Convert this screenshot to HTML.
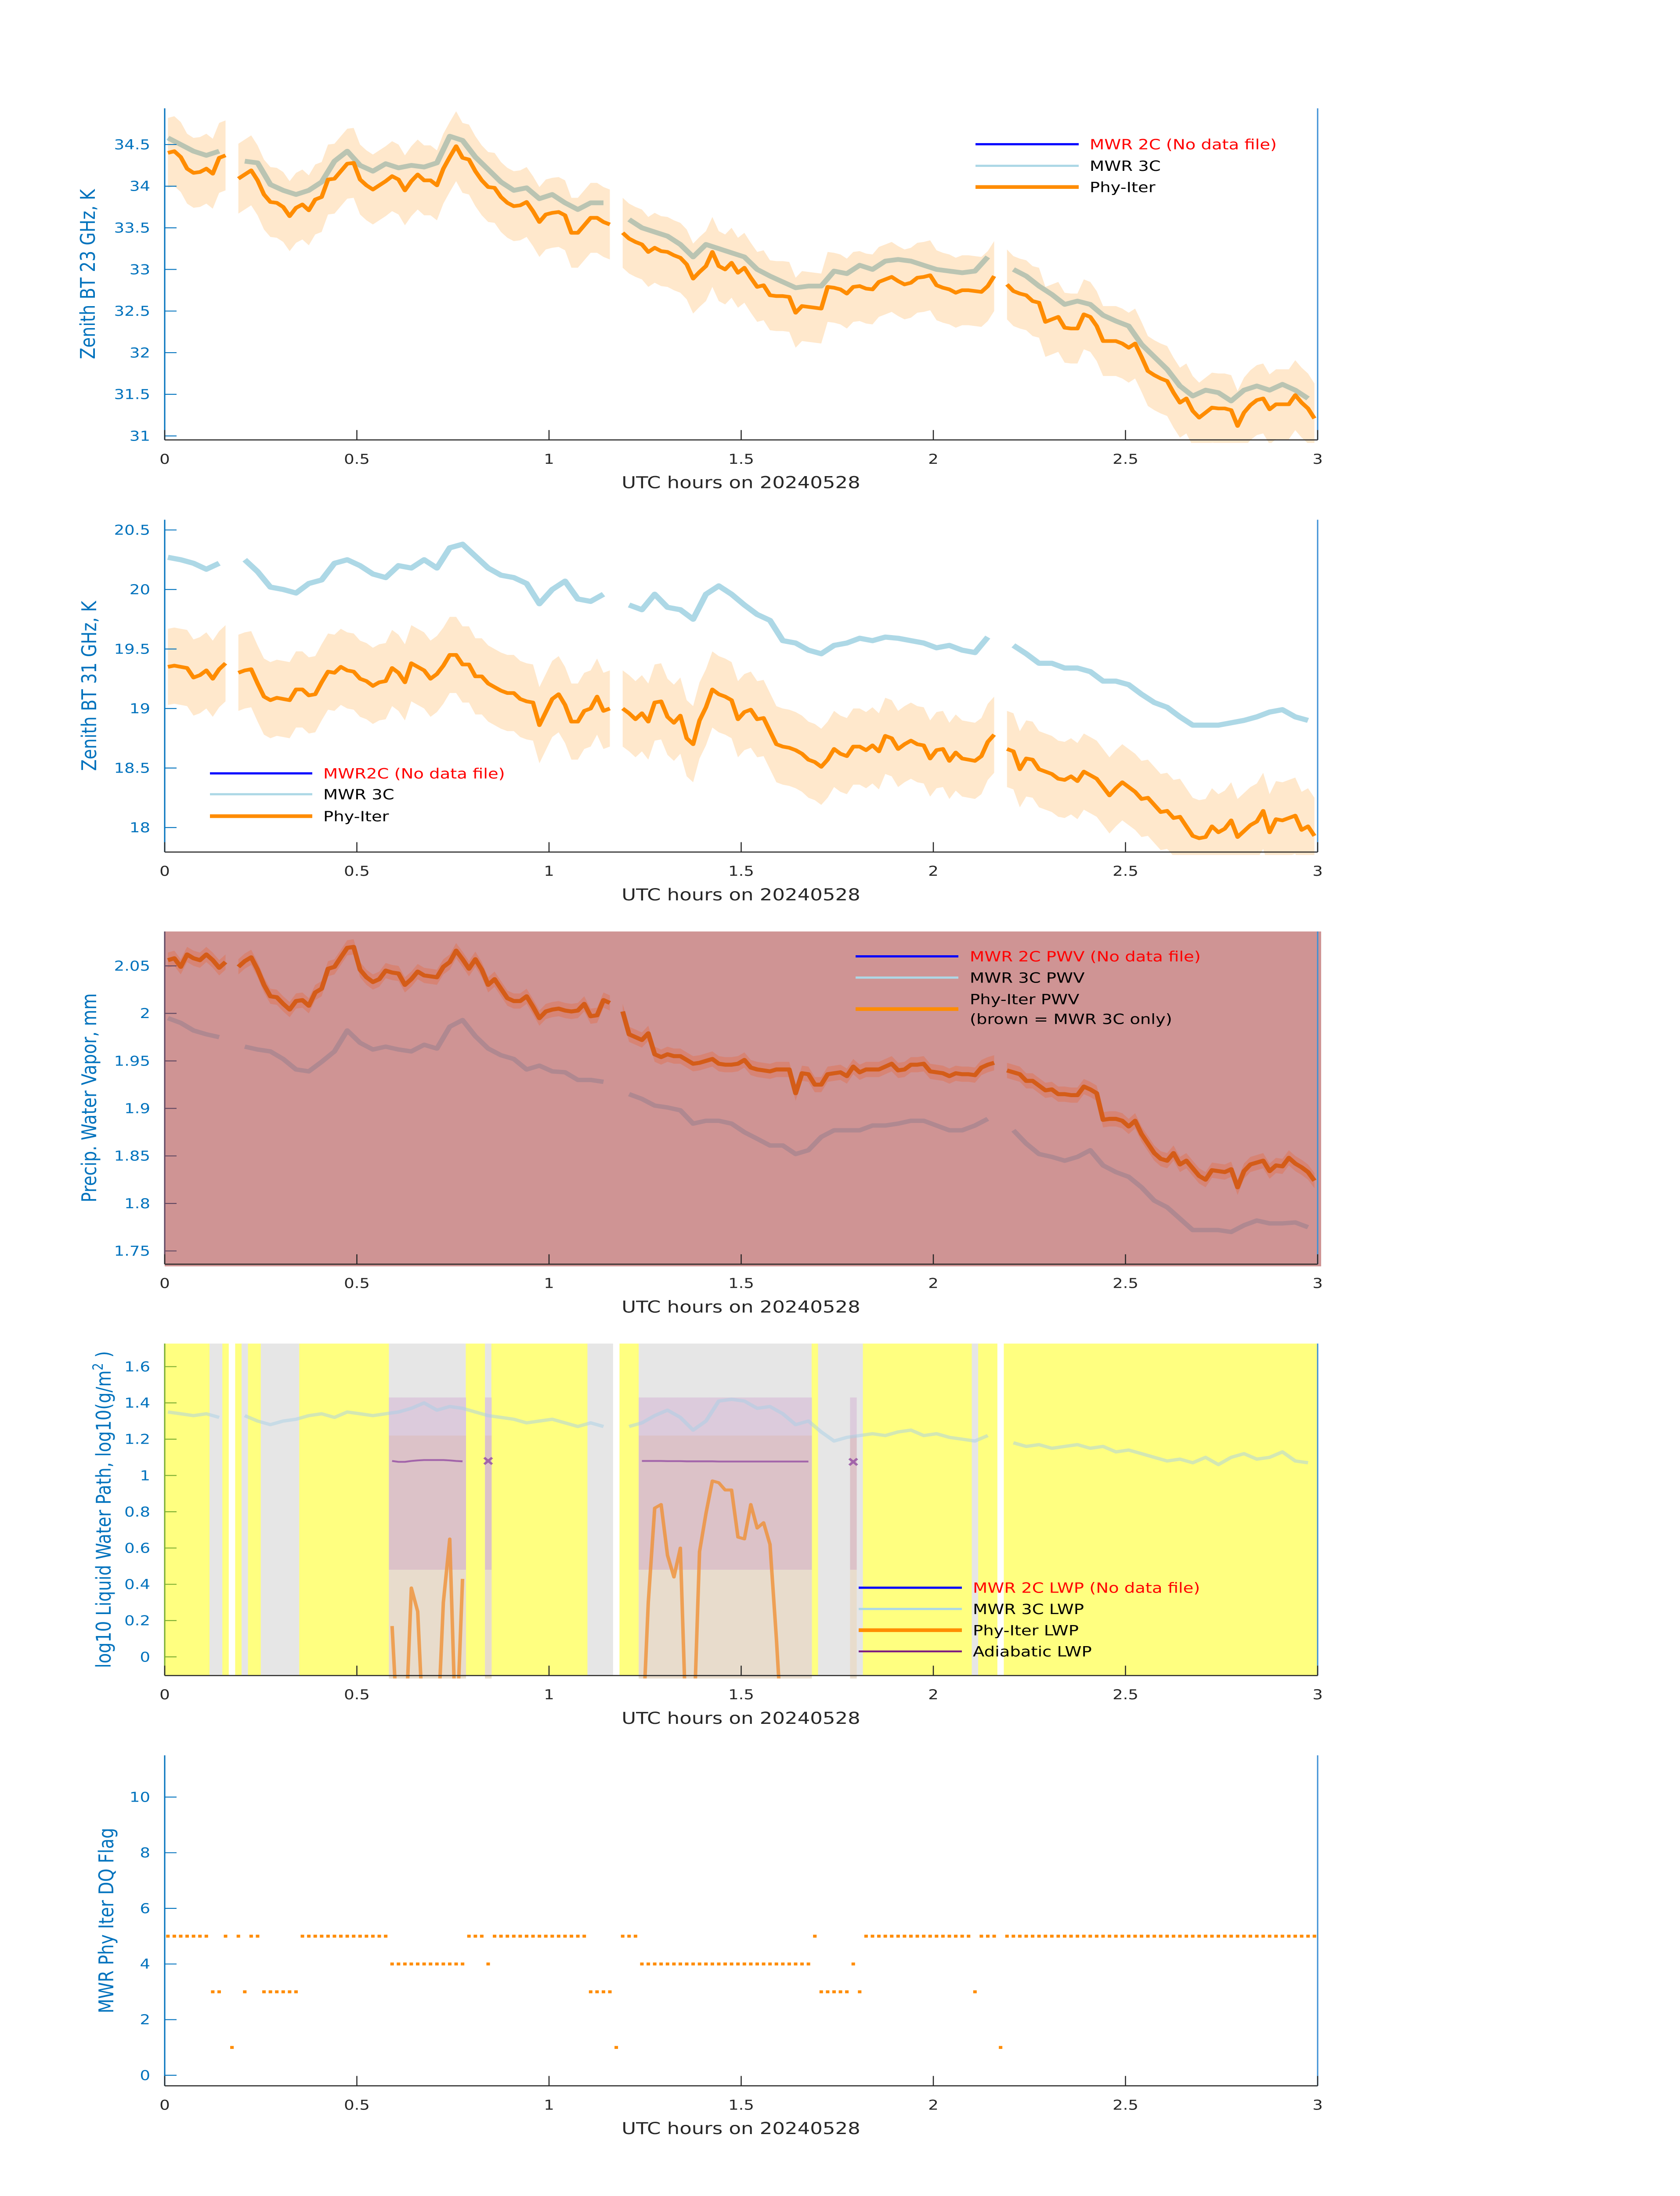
<!DOCTYPE html>
<html>
<head>
<meta charset="utf-8">
<meta name="viewport" content="width=3825">
<style>
html,body{margin:0;padding:0;background:#fff;width:100%;height:100%;overflow:hidden;}
svg{display:block;position:fixed;left:0;top:0;width:100vw;height:100vh;}
text{font-family:"DejaVu Sans","Liberation Sans",sans-serif;}
</style>
</head>
<body>
<svg id="fig" xmlns="http://www.w3.org/2000/svg" viewBox="0 0 3825 6000" preserveAspectRatio="none">
<rect x="0" y="0" width="3825" height="6000" fill="#ffffff"/>
</svg>
<script>
// ---------- shared axis data ----------
const xTickValues = [0, 0.5, 1, 1.5, 2, 2.5, 3];
const xTickLabels = ["0", "0.5", "1", "1.5", "2", "2.5", "3"];

// ---------- Panel 1: 23 GHz BT (K), Phy-Iter per minute ----------
const p1Phy = [34.40,34.42,34.35,34.21,34.16,34.17,34.21,34.15,34.34,34.37,null,
34.09,34.14,34.19,34.07,33.90,33.81,33.80,33.75,33.64,33.74,33.78,33.71,33.84,33.87,34.08,34.09,34.18,34.27,34.28,34.08,34.01,33.96,34.01,34.06,34.12,34.08,33.95,34.06,34.14,34.07,34.07,34.01,34.21,34.35,34.48,34.34,34.32,34.18,34.07,33.99,33.98,33.87,33.80,33.76,33.77,33.81,
33.70,33.57,33.66,33.68,33.69,33.65,33.44,33.44,33.53,33.62,33.62,33.57,33.54,null,
33.44,33.37,33.33,33.30,33.21,33.26,33.22,33.21,33.17,33.14,
33.06,32.89,32.97,33.04,33.21,33.04,33.00,33.08,32.96,33.02,
32.90,32.79,32.81,32.69,32.68,32.68,32.67,32.48,32.56,32.55,
32.54,32.53,32.79,32.78,32.76,32.71,32.79,32.80,32.77,32.76,
32.85,32.88,32.91,32.86,32.82,32.84,32.90,32.91,32.93,32.81,
32.78,32.76,32.72,32.75,32.75,32.74,32.73,32.80,32.92,null,
32.82,32.74,32.71,32.69,32.62,32.60,32.37,32.40,32.43,32.30,
32.29,32.29,32.46,32.43,32.32,32.14,32.14,32.14,32.11,32.06,
32.11,31.95,31.78,31.73,31.69,31.66,31.52,31.40,31.45,31.30,
31.22,31.28,31.34,31.33,31.33,31.31,31.12,31.28,31.37,31.43,
31.45,31.32,31.38,31.38,31.38,31.49,31.40,31.33,31.21];
const p1Mwr = [34.58,34.50,34.42,34.37,34.42,null,34.30,34.28,34.02,33.95,
33.90,33.95,34.05,34.30,34.42,34.25,34.18,34.27,34.22,34.25,
34.23,34.28,34.60,34.55,34.35,34.20,34.05,33.95,33.98,33.85,
33.90,33.80,33.72,33.80,33.80,null,33.60,33.50,33.45,33.40,
33.30,33.15,33.30,33.25,33.20,33.15,33.00,32.92,32.85,32.78,
32.80,32.80,32.98,32.95,33.05,33.00,33.10,33.12,33.10,33.05,
33.00,32.98,32.96,32.98,33.15,null,33.00,32.92,32.80,32.70,
32.58,32.62,32.58,32.45,32.38,32.32,32.10,31.95,31.80,31.60,
31.48,31.55,31.52,31.42,31.55,31.60,31.55,31.62,31.55,31.45];
const p1Unc = 0.42;
const p1Ticks = [31, 31.5, 32, 32.5, 33, 33.5, 34, 34.5];
const p1TickLabels = ["31","31.5","32","32.5","33","33.5","34","34.5"];

// ---------- Panel 2: 31 GHz BT ----------
const p2Phy = [19.35,19.36,19.35,19.34,19.26,19.28,19.32,19.25,19.33,19.38,null,
19.30,19.32,19.33,19.21,19.10,19.07,19.09,19.08,19.07,19.16,
19.16,19.11,19.12,19.22,19.31,19.30,19.35,19.32,19.31,19.25,
19.23,19.19,19.22,19.23,19.34,19.30,19.22,19.38,19.35,19.32,
19.25,19.29,19.36,19.45,19.45,19.37,19.37,19.27,19.27,19.21,
19.18,19.15,19.13,19.13,19.08,19.06,19.05,18.86,18.97,19.08,
19.12,19.03,18.89,18.89,18.98,19.00,19.10,18.98,19.00,null,
19.00,18.96,18.91,18.96,18.89,19.05,19.06,18.93,18.88,18.94,
18.75,18.70,18.90,19.01,19.16,19.12,19.10,19.07,18.91,18.97,
18.99,18.91,18.92,18.81,18.70,18.68,18.67,18.65,18.62,18.57,
18.55,18.51,18.57,18.66,18.62,18.60,18.68,18.68,18.65,18.69,
18.64,18.77,18.75,18.66,18.70,18.73,18.70,18.69,18.58,18.65,
18.66,18.56,18.63,18.58,18.57,18.56,18.60,18.72,18.78,null,
18.66,18.64,18.49,18.58,18.57,18.49,18.47,18.45,18.41,18.40,
18.43,18.39,18.47,18.44,18.41,18.34,18.27,18.33,18.38,18.34,
18.30,18.24,18.25,18.19,18.13,18.14,18.08,18.09,18.01,17.93,
17.91,17.92,18.01,17.96,17.99,18.06,17.92,17.97,18.02,18.05,
18.14,17.96,18.07,18.06,18.08,18.10,17.98,18.01,17.93];
const p2Mwr = [20.27,20.25,20.22,20.17,20.22,null,20.25,20.15,20.02,20.00,
19.97,20.05,20.08,20.22,20.25,20.20,20.13,20.10,20.20,20.18,
20.25,20.18,20.35,20.38,20.28,20.18,20.12,20.10,20.05,19.88,
20.00,20.07,19.92,19.90,19.96,null,19.87,19.83,19.96,19.85,
19.83,19.75,19.96,20.03,19.96,19.87,19.79,19.74,19.57,19.55,
19.49,19.46,19.53,19.55,19.59,19.57,19.60,19.59,19.57,19.55,
19.51,19.53,19.49,19.47,19.60,null,19.53,19.46,19.38,19.38,
19.34,19.34,19.31,19.23,19.23,19.20,19.12,19.05,19.01,18.93,
18.86,18.86,18.86,18.88,18.90,18.93,18.97,18.99,18.93,18.90];
const p2Unc = 0.32;
const p2Ticks = [18, 18.5, 19, 19.5, 20, 20.5];
const p2TickLabels = ["18","18.5","19","19.5","20","20.5"];

// ---------- Panel 3: PWV (mm) ----------
const p3Phy = [2.056,2.058,2.049,2.062,2.058,2.056,2.062,2.056,2.048,2.054,null,
2.049,2.055,2.059,2.046,2.030,2.018,2.017,2.010,2.004,2.013,
2.014,2.008,2.022,2.026,2.047,2.049,2.059,2.069,2.070,2.046,
2.038,2.033,2.036,2.045,2.043,2.042,2.030,2.036,2.044,2.040,
2.039,2.038,2.049,2.054,2.066,2.057,2.047,2.057,2.046,2.030,
2.036,2.026,2.016,2.013,2.013,2.018,2.007,1.995,2.002,2.004,
2.005,2.003,2.002,2.003,2.010,1.997,1.998,2.014,2.011,null,
2.002,1.978,1.975,1.972,1.979,1.957,1.954,1.957,1.955,1.955,
1.951,1.947,1.948,1.950,1.952,1.947,1.946,1.946,1.947,1.951,
1.943,1.941,1.940,1.939,1.941,1.941,1.941,1.916,1.937,1.936,
1.925,1.925,1.936,1.937,1.938,1.934,1.944,1.938,1.941,1.941,
1.941,1.944,1.947,1.940,1.941,1.946,1.946,1.947,1.939,1.938,
1.937,1.934,1.937,1.936,1.936,1.935,1.943,1.946,1.948,null,
1.940,1.938,1.936,1.929,1.929,1.924,1.919,1.920,1.915,1.915,
1.914,1.914,1.923,1.920,1.916,1.888,1.889,1.889,1.887,1.881,
1.887,1.873,1.863,1.853,1.847,1.845,1.853,1.841,1.845,1.837,
1.829,1.825,1.835,1.834,1.833,1.836,1.817,1.834,1.841,1.843,
1.845,1.834,1.840,1.839,1.848,1.842,1.838,1.833,1.824];
const p3Mwr = [1.995,1.990,1.982,1.978,1.975,null,1.965,1.962,1.960,1.952,
1.941,1.939,1.949,1.960,1.982,1.969,1.962,1.965,1.962,1.960,
1.967,1.963,1.986,1.993,1.976,1.963,1.956,1.952,1.941,1.945,
1.939,1.938,1.930,1.930,1.928,null,1.915,1.910,1.903,1.901,
1.898,1.884,1.887,1.887,1.884,1.875,1.868,1.861,1.861,1.852,
1.856,1.870,1.877,1.877,1.877,1.882,1.882,1.884,1.887,1.887,
1.882,1.877,1.877,1.882,1.889,null,1.877,1.863,1.852,1.849,
1.845,1.849,1.856,1.840,1.833,1.828,1.817,1.803,1.796,1.784,
1.772,1.772,1.772,1.770,1.777,1.782,1.779,1.779,1.780,1.775];
const p3Unc = 0.008;
const p3Ticks = [1.75, 1.8, 1.85, 1.9, 1.95, 2, 2.05];
const p3TickLabels = ["1.75","1.8","1.85","1.9","1.95","2","2.05"];

// ---------- Panel 4: log10 LWP ----------
const p4Mwr = [1.35,1.34,1.33,1.34,1.32,null,1.33,1.30,1.28,1.30,
1.31,1.33,1.34,1.32,1.35,1.34,1.33,1.34,1.35,1.37,
1.40,1.36,1.38,1.37,1.35,1.33,1.32,1.31,1.29,1.30,
1.31,1.29,1.27,1.29,1.27,null,1.27,1.29,1.33,1.36,
1.32,1.25,1.30,1.41,1.42,1.41,1.37,1.38,1.34,1.28,
1.30,1.24,1.19,1.21,1.22,1.23,1.22,1.24,1.25,1.22,
1.23,1.21,1.20,1.19,1.22,null,1.18,1.16,1.17,1.15,
1.16,1.17,1.15,1.16,1.13,1.14,1.12,1.10,1.08,1.09,
1.07,1.10,1.06,1.10,1.12,1.09,1.10,1.13,1.08,1.07];
const p4PhyMinute = [35,36,37,38,39,40,41,42,43,44,45,46,
74,75,76,77,78,79,80,81,82,83,84,85,86,87,88,89,90,91,92,93,94,95,96,97,98,99,100];
const p4PhyValue = [0.17,-0.5,-0.5,0.38,0.25,-0.5,-0.5,-0.5,0.30,0.65,-0.5,0.43,
-0.5,0.30,0.82,0.84,0.56,0.44,0.60,-0.5,-0.5,0.58,0.79,0.97,0.96,0.92,0.92,0.66,0.65,0.84,0.71,0.74,0.62,0.10,-0.5,-0.5,-0.5,-0.5,-0.5];
const adiabMinute = [35,36,37,38,39,40,41,42,43,44,45,46,50,
74,75,76,77,78,79,80,81,82,83,84,85,86,87,88,89,90,91,92,93,94,95,96,97,98,99,100,107];
const adiabValue = [1.080,1.075,1.075,1.080,1.083,1.085,1.085,1.085,1.085,1.083,1.080,1.078,1.080,
1.080,1.080,1.080,1.080,1.079,1.079,1.079,1.078,1.078,1.078,1.078,1.078,1.077,1.077,1.077,1.077,1.077,1.077,1.077,1.077,1.077,1.077,1.077,1.077,1.077,1.077,1.077,1.075];
const cloudTop = 1.43, cloudMid = 1.22, cloudBase = 0.48;
const p4Ticks = [0, 0.2, 0.4, 0.6, 0.8, 1, 1.2, 1.4, 1.6];
const p4TickLabels = ["0","0.2","0.4","0.6","0.8","1","1.2","1.4","1.6"];

// ---------- Panel 5: DQ flag per minute ----------
const dqFlag = [5,5,5,5,5,5,5,3,3,5,
1,5,3,5,5,3,3,3,3,3,
3,5,5,5,5,5,5,5,5,5,
5,5,5,5,5,4,4,4,4,4,
4,4,4,4,4,4,4,5,5,5,
4,5,5,5,5,5,5,5,5,5,
5,5,5,5,5,5,3,3,3,3,
1,5,5,5,4,4,4,4,4,4,
4,4,4,4,4,4,4,4,4,4,
4,4,4,4,4,4,4,4,4,4,
4,5,3,3,3,3,3,4,3,5,
5,5,5,5,5,5,5,5,5,5,
5,5,5,5,5,5,3,5,5,5,
1,5,5,5,5,5,5,5,5,5,
5,5,5,5,5,5,5,5,5,5,
5,5,5,5,5,5,5,5,5,5,
5,5,5,5,5,5,5,5,5,5,
5,5,5,5,5,5,5,5,5,5];
const p5Ticks = [0, 2, 4, 6, 8, 10];
const p5TickLabels = ["0","2","4","6","8","10"];

// ---------- drawing ----------
const NS = "http://www.w3.org/2000/svg";
const svg = document.getElementById("fig");
const X0 = 375, X1 = 3000, T0 = 0, T1 = 3;
function sx(t) { return X0 + (t - T0) / (T1 - T0) * (X1 - X0); }
function mk(tag, attrs, parent) {
  const el = document.createElementNS(NS, tag);
  for (const k in attrs) el.setAttribute(k, attrs[k]);
  (parent || svg).appendChild(el);
  return el;
}
function makeAxis(top, bottom, vmin, vmax) {
  return { top: top, bottom: bottom, sy: function (v) { return bottom - (v - vmin) / (vmax - vmin) * (bottom - top); } };
}
function minuteT(i) { return (i + 0.5) / 60; }
function twoMinT(k) { return (2 * k + 0.5) / 60; }
function linePath(vals, tf, sy) {
  let d = "", pen = false;
  for (let i = 0; i < vals.length; i++) {
    const v = vals[i];
    if (v === null) { pen = false; continue; }
    d += (pen ? "L" : "M") + sx(tf(i)).toFixed(1) + "," + sy(v).toFixed(1);
    pen = true;
  }
  return d;
}
function bandPaths(vals, tf, sy, unc) {
  const out = []; let seg = [];
  for (let i = 0; i <= vals.length; i++) {
    const v = i < vals.length ? vals[i] : null;
    if (v === null) { if (seg.length) out.push(seg); seg = []; continue; }
    seg.push(i);
  }
  return out.map(function (s) {
    let d = "";
    s.forEach(function (i, j) { d += (j ? "L" : "M") + sx(tf(i)).toFixed(1) + "," + sy(vals[i] + unc).toFixed(1); });
    for (let j = s.length - 1; j >= 0; j--) { const i = s[j]; d += "L" + sx(tf(i)).toFixed(1) + "," + sy(vals[i] - unc).toFixed(1); }
    return d + "Z";
  });
}
let clipCount = 0;
function addClip(ax) {
  const id = "clip" + (clipCount++);
  const cp = mk("clipPath", { id: id });
  mk("rect", { x: X0, y: ax.top, width: X1 - X0 + 12, height: ax.bottom - ax.top + 8 }, cp);
  return "url(#" + id + ")";
}
function drawFrame(ax, ticks, labels, ylabel, ylabelX, leftColor, key) {
  const g = mk("g", {});
  
  
  const bl = mk("line", { x1: X0, y1: ax.bottom, x2: X1, y2: ax.bottom, stroke: "#262626", "stroke-width": 3 }, g);
  
  
  const ll = mk("line", { x1: X0, y1: ax.top, x2: X0, y2: ax.bottom, stroke: leftColor, "stroke-width": 3 }, g);
  
  
  const rl = mk("line", { x1: X1, y1: ax.top, x2: X1, y2: ax.bottom, stroke: "#3c8fd6", "stroke-width": 3 }, g);
  
  
  ticks.forEach(function (v, j) {
    const y = ax.sy(v);
    const tk = mk("line", { x1: X0, y1: y, x2: X0 + 27, y2: y, stroke: leftColor, "stroke-width": 2.5 }, g);
    
    
    const tl = mk("text", { x: 342, y: y + 13, "text-anchor": "end", "font-size": 37, fill: "#0072bd" }, g);
    tl.textContent = labels[j];
    
    
  });
  xTickValues.forEach(function (t, j) {
    const x = sx(t);
    const tk = mk("line", { x1: x, y1: ax.bottom, x2: x, y2: ax.bottom - 27, stroke: "#262626", "stroke-width": 2.5 }, g);
    
    
    const tl = mk("text", { x: x, y: ax.bottom + 65, "text-anchor": "middle", "font-size": 37, fill: "#262626" }, g);
    tl.textContent = xTickLabels[j];
    
    
  });
  const xl = mk("text", { x: 1687, y: ax.bottom + 132, "text-anchor": "middle", "font-size": 45, fill: "#262626" }, g);
  xl.textContent = "UTC hours on 20240528";
  
  
  const cy = (ax.top + ax.bottom) / 2;
  const yl = mk("text", { x: 0, y: 0, "text-anchor": "middle", "font-size": 46, fill: "#0072bd", transform: "translate(" + (ylabelX + 16) + "," + cy + ") rotate(-90)" }, g);
  if (typeof ylabel === "string") { yl.textContent = ylabel; }
  else {
    const a = mk("tspan", {}, yl); a.textContent = ylabel[0];
    const b = mk("tspan", { dy: -18, "font-size": 32 }, yl); b.textContent = ylabel[1];
    const c = mk("tspan", { dy: 18 }, yl); c.textContent = ylabel[2];
  }
  
  
}
function legend(x0, x1, tx, rows, key) {
  const g = mk("g", {});
  
  
  rows.forEach(function (r) {
    if (r.color) {
      const l = mk("line", { x1: x0, y1: r.ly, x2: x1, y2: r.ly, stroke: r.color, "stroke-width": r.w }, g);
      
      
    }
    if (r.text) {
      const t = mk("text", { x: tx, y: r.ty + 14, "font-size": 38.5, fill: r.tc }, g);
      t.textContent = r.text;
      
      
    }
  });
}

// ===== Panel 1 =====
(function () {
  const ax = makeAxis(296, 1202, 30.952, 34.935);
  const clip = addClip(ax);
  const mw = mk("path", { d: linePath(p1Mwr, twoMinT, ax.sy), fill: "none", stroke: "#a9d3df", "stroke-width": 13, "stroke-linejoin": "round", "clip-path": clip });
  
  
  bandPaths(p1Phy, minuteT, ax.sy, p1Unc).forEach(function (d) {
    const b = mk("path", { d: d, fill: "#ff8c00", "fill-opacity": 0.2, "clip-path": clip });
    
    
  });
  const ph = mk("path", { d: linePath(p1Phy, minuteT, ax.sy), fill: "none", stroke: "#ff8c00", "stroke-width": 10, "stroke-linejoin": "round", "clip-path": clip });
  
  
  drawFrame(ax, p1Ticks, p1TickLabels, "Zenith BT 23 GHz, K", 200, "#0072bd", "p1");
  legend(2221, 2456, 2481, [
    { ly: 394, ty: 394, color: "#0000ff", w: 6, text: "MWR 2C (No data file)", tc: "#ff0000" },
    { ly: 453, ty: 453, color: "#add8e6", w: 6, text: "MWR 3C", tc: "#000" },
    { ly: 511, ty: 511, color: "#ff8c00", w: 10, text: "Phy-Iter", tc: "#000" }], "p1");
})();

// ===== Panel 2 =====
(function () {
  const ax = makeAxis(1420, 2328, 17.794, 20.586);
  const clip = addClip(ax);
  const mw = mk("path", { d: linePath(p2Mwr, twoMinT, ax.sy), fill: "none", stroke: "#add8e6", "stroke-width": 14, "stroke-linejoin": "round", "clip-path": clip });
  
  
  bandPaths(p2Phy, minuteT, ax.sy, p2Unc).forEach(function (d) {
    const b = mk("path", { d: d, fill: "#ff8c00", "fill-opacity": 0.2, "clip-path": clip });
    
    
  });
  const ph = mk("path", { d: linePath(p2Phy, minuteT, ax.sy), fill: "none", stroke: "#ff8c00", "stroke-width": 10, "stroke-linejoin": "round", "clip-path": clip });
  
  
  drawFrame(ax, p2Ticks, p2TickLabels, "Zenith BT 31 GHz, K", 203, "#0072bd", "p2");
  legend(478, 711, 736, [
    { ly: 2113, ty: 2113, color: "#0000ff", w: 6, text: "MWR2C (No data file)", tc: "#ff0000" },
    { ly: 2170, ty: 2170, color: "#add8e6", w: 6, text: "MWR 3C", tc: "#000" },
    { ly: 2230, ty: 2230, color: "#ff8c00", w: 10, text: "Phy-Iter", tc: "#000" }], "p2");
})();

// ===== Panel 3 =====
(function () {
  const ax = makeAxis(2545, 3454, 1.7361, 2.0862);
  const bg = mk("rect", { x: X0, y: ax.top, width: X1 - X0 + 8, height: ax.bottom - ax.top + 6, fill: "#cf9494" });
  
  
  const clip = addClip(ax);
  const mw = mk("path", { d: linePath(p3Mwr, twoMinT, ax.sy), fill: "none", stroke: "#b08890", "stroke-width": 12, "stroke-linejoin": "round", "clip-path": clip });
  
  
  bandPaths(p3Phy, minuteT, ax.sy, p3Unc).forEach(function (d) {
    const b = mk("path", { d: d, fill: "#e07050", "fill-opacity": 0.45, "clip-path": clip });
    
    
  });
  const ph = mk("path", { d: linePath(p3Phy, minuteT, ax.sy), fill: "none", stroke: "#d45c18", "stroke-width": 11, "stroke-linejoin": "round", "clip-path": clip });
  
  
  drawFrame(ax, p3Ticks, p3TickLabels, "Precip. Water Vapor, mm", 203, "#5e4660", "p3");
  legend(1948, 2182, 2208, [
    { ly: 2613, ty: 2613, color: "#0000ff", w: 6, text: "MWR 2C PWV (No data file)", tc: "#ff0000" },
    { ly: 2671, ty: 2671, color: "#add8e6", w: 6, text: "MWR 3C PWV", tc: "#000" },
    { ly: 2757, ty: 2730, color: "#ff8c00", w: 10, text: "Phy-Iter PWV", tc: "#000" },
    { ty: 2784, text: "(brown = MWR 3C only)", tc: "#000" }], "p3");
})();

// ===== Panel 4 =====
(function () {
  const ax = makeAxis(3671, 4578, -0.103, 1.727);
  let start = 0;
  for (let i = 1; i <= dqFlag.length; i++) {
    const cls = function (f) { return f === 5 ? "#ffff80" : (f === 1 ? "#ffffff" : "#e6e6e6"); };
    if (i === dqFlag.length || cls(dqFlag[i]) !== cls(dqFlag[start])) {
      const r = mk("rect", { x: sx(start / 60), y: ax.top, width: sx(i / 60) - sx(start / 60) + 0.6, height: ax.bottom - ax.top, fill: cls(dqFlag[start]) });
      
      
      start = i;
    }
  }
  for (let i = 0; i < dqFlag.length; i++) {
    if (dqFlag[i] !== 4) continue;
    const xa = sx(i / 60), w = sx((i + 1) / 60) - xa + 0.6;
    const c1 = mk("rect", { x: xa, y: ax.sy(cloudTop), width: w, height: ax.sy(cloudMid) - ax.sy(cloudTop), fill: "#dccbdc" });
    
    
    const c2 = mk("rect", { x: xa, y: ax.sy(cloudMid), width: w, height: ax.sy(cloudBase) - ax.sy(cloudMid), fill: "#dcc2c8" });
    
    
    const c3 = mk("rect", { x: xa, y: ax.sy(cloudBase), width: w, height: ax.bottom + 8 - ax.sy(cloudBase), fill: "#e8dccc" });
    
    
  }
  const clip = addClip(ax);
  const mw = mk("path", { d: linePath(p4Mwr, twoMinT, ax.sy), fill: "none", stroke: "#a8cfe6", "stroke-opacity": 0.5, "stroke-width": 9, "stroke-linejoin": "round", "clip-path": clip });
  
  
  function sparse(mins, vals, color, width, opacity, name, marker) {
    let d = "";
    for (let j = 0; j < mins.length; j++) {
      const cont = j > 0 && mins[j] === mins[j - 1] + 1;
      const nextCont = j < mins.length - 1 && mins[j + 1] === mins[j] + 1;
      if (!cont && !nextCont && marker) {
        const x = sx(minuteT(mins[j])), y = ax.sy(vals[j]);
        const m = mk("path", { d: "M" + (x - 9) + "," + (y - 9) + "L" + (x + 9) + "," + (y + 9) + "M" + (x - 9) + "," + (y + 9) + "L" + (x + 9) + "," + (y - 9), stroke: color, "stroke-width": 6, "stroke-opacity": opacity });
        
        
        continue;
      }
      d += (cont ? "L" : "M") + sx(minuteT(mins[j])).toFixed(1) + "," + ax.sy(vals[j]).toFixed(1);
    }
    const p = mk("path", { d: d, fill: "none", stroke: color, "stroke-width": width, "stroke-opacity": opacity, "stroke-linejoin": "round", "clip-path": clip });
    
    
  }
  sparse(p4PhyMinute, p4PhyValue, "#f08c2c", 8, 0.75, "p4-phyiter-lwp-line", false);
  sparse(adiabMinute, adiabValue, "#9b5aa6", 5, 0.9, "p4-adiabatic-lwp-line", true);
  drawFrame(ax, p4Ticks, p4TickLabels, ["log10 Liquid Water Path, log10(g/m", "2", " )"], 236, "#77ac30", "p4");
  legend(1955, 2190, 2215, [
    { ly: 4338, ty: 4338, color: "#0000ff", w: 6, text: "MWR 2C LWP (No data file)", tc: "#ff0000" },
    { ly: 4396, ty: 4396, color: "#add8e6", w: 6, text: "MWR 3C LWP", tc: "#000" },
    { ly: 4454, ty: 4454, color: "#ff8c00", w: 10, text: "Phy-Iter LWP", tc: "#000" },
    { ly: 4512, ty: 4512, color: "#7e1e80", w: 5, text: "Adiabatic LWP", tc: "#000" }], "p4");
})();

// ===== Panel 5 =====
(function () {
  const ax = makeAxis(4796, 5699, -0.38, 11.5);
  for (let i = 0; i < dqFlag.length; i++) {
    const c = mk("rect", { x: sx(minuteT(i)) - 4, y: ax.sy(dqFlag[i]) - 4, width: 8, height: 8, fill: "#ff8c00" });
    
    
  }
  drawFrame(ax, p5Ticks, p5TickLabels, "MWR Phy Iter DQ Flag", 242, "#0072bd", "p5");
})();
</script>
</body>
</html>
